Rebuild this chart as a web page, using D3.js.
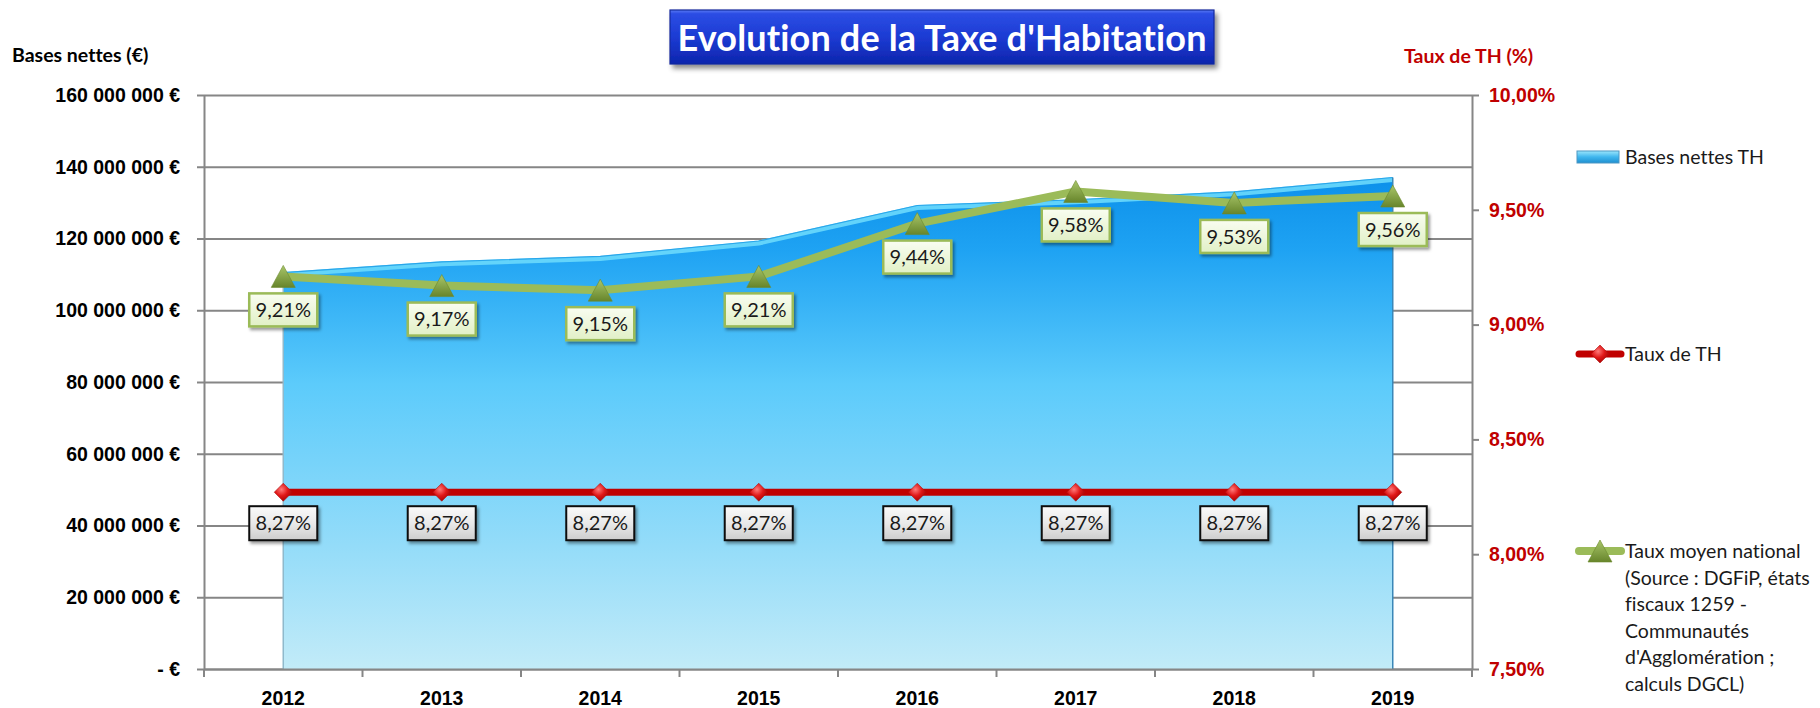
<!DOCTYPE html>
<html><head><meta charset="utf-8">
<script src="https://cdn.jsdelivr.net/npm/d3@7"></script>
<style>
body{margin:0;background:#fff;}
svg{display:block;font-family:Lato,'Open Sans',sans-serif;}
svg text{font-variant-ligatures:none;font-feature-settings:"liga" 0,"clig" 0;}
</style>
</head><body>
<svg id="c" width="1820" height="708"></svg>
<script>
// ---- data ----
const years = ["2012","2013","2014","2015","2016","2017","2018","2019"];
const basesNettes = [110500000,113500000,115000000,119300000,129200000,130800000,133000000,137000000];
const tauxTH = [8.27,8.27,8.27,8.27,8.27,8.27,8.27,8.27];
const tauxMoyen = [9.21,9.17,9.15,9.21,9.44,9.58,9.53,9.56];
const leftTicks = [0,20000000,40000000,60000000,80000000,100000000,120000000,140000000,160000000];
const rightTicks = [7.5,8,8.5,9,9.5,10];
const titleText = "Evolution de la Taxe d'Habitation";
const leftTitle = "Bases nettes (€)";
const rightTitle = "Taux de TH (%)";
const legendBases = ["Bases nettes TH"];
const legendTaux = ["Taux de TH"];
const legendMoyen = ["Taux moyen national","(Source : DGFiP, états","fiscaux 1259 -","Communautés","d'Agglomération ;","calculs DGCL)"];

// ---- layout ----
const M = {left:204, right:1472, top:95, bottom:669};
const svg = d3.select("#c");
const loc = d3.formatLocale({decimal:",", thousands:"\u00a0", grouping:[3], currency:["","\u00a0€"]});
const fmtEur = v => v === 0 ? "-\u00a0€" : loc.format(",.0f")(v) + "\u00a0€";
const fmtPct = v => loc.format(".2f")(v) + "%";

const x = d3.scaleBand().domain(years).range([M.left, M.right]);
const cx = d => x(d) + x.bandwidth()/2;
const yL = d3.scaleLinear().domain([0,160000000]).range([M.bottom, M.top]);
const yR = d3.scaleLinear().domain([7.5,10]).range([M.bottom, M.top]);

// ---- defs ----
const defs = svg.append("defs");
function lg(id, stops, x1=0,y1=0,x2=0,y2=1){
  const g = defs.append("linearGradient").attr("id",id)
    .attr("x1",x1).attr("y1",y1).attr("x2",x2).attr("y2",y2);
  stops.forEach(s=>g.append("stop").attr("offset",s[0]).attr("stop-color",s[1]));
}
lg("areaGrad",[[0,"#0c90ea"],[0.15,"#1fa3f3"],[0.42,"#5ccbfb"],[0.75,"#94dcf9"],[1,"#c2ebf8"]]);
lg("titleGrad",[[0,"#5a78f5"],[0.07,"#2b4de4"],[0.5,"#1c3bd3"],[1,"#0d25ad"]]);
lg("grayGrad",[[0,"#fafafa"],[0.5,"#e9e9e9"],[1,"#cdcdcd"]]);
lg("greenGrad",[[0,"#f9fdf1"],[1,"#e1f0c6"]]);
lg("triGrad",[[0,"#a9c66a"],[1,"#67852b"]]);
lg("legBasesGrad",[[0,"#9be6fc"],[0.5,"#3fb6ee"],[1,"#1f8fd0"]]);
const rg = defs.append("radialGradient").attr("id","diaGrad").attr("cx","0.4").attr("cy","0.35").attr("r","0.7");
rg.append("stop").attr("offset",0).attr("stop-color","#ff7a7a");
rg.append("stop").attr("offset",0.5).attr("stop-color","#e01818");
rg.append("stop").attr("offset",1).attr("stop-color","#a00000");
const f = defs.append("filter").attr("id","shadow").attr("x","-20%").attr("y","-20%").attr("width","150%").attr("height","160%");
f.append("feDropShadow").attr("dx",2).attr("dy",2.5).attr("stdDeviation",1.6).attr("flood-color","#000").attr("flood-opacity",0.4);
const f2 = defs.append("filter").attr("id","tshadow").attr("x","-10%").attr("y","-20%").attr("width","120%").attr("height","160%");
f2.append("feDropShadow").attr("dx",3).attr("dy",4).attr("stdDeviation",2.5).attr("flood-color","#000").attr("flood-opacity",0.45);

const axisColor = "#868686";

// ---- gridlines ----
const grid = svg.append("g").attr("transform",`translate(${M.left},0)`)
  .call(d3.axisLeft(yL).tickValues(leftTicks).tickSize(-(M.right-M.left)).tickFormat(""));
grid.select(".domain").remove();
grid.selectAll("line").attr("stroke",axisColor).attr("stroke-width",2);

// ---- area ----
const areaData = years.map((y,i)=>({year:y, v:basesNettes[i]}));
svg.append("path").datum(areaData)
  .attr("d", d3.area().x(d=>cx(d.year)).y0(yL(0)).y1(d=>yL(d.v)))
  .attr("fill","url(#areaGrad)");
// top bevel
svg.append("path").datum(areaData)
  .attr("d", d3.line().x(d=>cx(d.year)).y(d=>yL(d.v)+2))
  .attr("fill","none").attr("stroke","#6ad9fc").attr("stroke-width",5).attr("opacity",0.9);
svg.append("path").datum(areaData)
  .attr("d", d3.line().x(d=>cx(d.year)).y(d=>yL(d.v)))
  .attr("fill","none").attr("stroke","#2aa6ea").attr("stroke-width",1.2);
// side edges
[[years[0],basesNettes[0],"#8fb9cc"],[years[years.length-1],basesNettes[basesNettes.length-1],"#3a87b8"]].forEach(e=>{
  svg.append("line").attr("x1",cx(e[0])).attr("x2",cx(e[0]))
    .attr("y1",yL(e[1])).attr("y2",yL(0)).attr("stroke",e[2]).attr("stroke-width",1.5);
});

// ---- axes ----
const axL = svg.append("g").attr("transform",`translate(${M.left},0)`)
  .call(d3.axisLeft(yL).tickValues(leftTicks).tickSize(7).tickSizeOuter(0).tickPadding(17).tickFormat(fmtEur));
axL.selectAll("path,line").attr("stroke",axisColor).attr("stroke-width",2);
axL.selectAll("text").attr("font-size","19.5px").attr("font-weight","bold").attr("fill","#000");

const axR = svg.append("g").attr("transform",`translate(${M.right},0)`)
  .call(d3.axisRight(yR).tickValues(rightTicks).tickSize(7).tickSizeOuter(0).tickPadding(10).tickFormat(fmtPct));
axR.selectAll("path,line").attr("stroke",axisColor).attr("stroke-width",2);
axR.selectAll("text").attr("font-size","19.5px").attr("font-weight","bold").attr("fill","#c00000");

const axB = svg.append("g").attr("transform",`translate(0,${M.bottom})`)
  .call(d3.axisBottom(x).tickSize(0).tickSizeOuter(0).tickPadding(22));
axB.selectAll("path").attr("stroke",axisColor).attr("stroke-width",2);
axB.selectAll("text").attr("font-size","19.5px").attr("font-weight","bold").attr("fill","#000");
// category boundary ticks
svg.append("g").selectAll("line").data(years.map(y=>x(y)).concat([M.right]))
  .join("line").attr("x1",d=>d).attr("x2",d=>d).attr("y1",M.bottom).attr("y2",M.bottom+8)
  .attr("stroke",axisColor).attr("stroke-width",2);

// ---- lines ----
svg.append("path").datum(tauxTH)
  .attr("d", d3.line().x((d,i)=>cx(years[i])).y(d=>yR(d)))
  .attr("fill","none").attr("stroke","#c00000").attr("stroke-width",7);
svg.append("path").datum(tauxMoyen)
  .attr("d", d3.line().x((d,i)=>cx(years[i])).y(d=>yR(d)))
  .attr("fill","none").attr("stroke","#9bbb59").attr("stroke-width",8).attr("stroke-linejoin","round");

const diamond = "M0,-9L9,0L0,9L-9,0Z";
const triangle = "M0,-11L12,11L-12,11Z";
svg.append("g").selectAll("path").data(tauxTH).join("path")
  .attr("d",diamond).attr("transform",(d,i)=>`translate(${cx(years[i])},${yR(d)})`)
  .attr("fill","url(#diaGrad)").attr("stroke","#b01010").attr("stroke-width",0.6);
svg.append("g").selectAll("path").data(tauxMoyen).join("path")
  .attr("d",triangle).attr("transform",(d,i)=>`translate(${cx(years[i])},${yR(d)})`)
  .attr("fill","url(#triGrad)").attr("stroke","#6b8a2c").attr("stroke-width",0.6);

// ---- data labels ----
function labels(data, offset, fill, stroke, sw, h){
  const g = svg.append("g").selectAll("g").data(data).join("g")
    .attr("transform",(d,i)=>`translate(${cx(years[i])},${yR(d)+offset})`);
  g.append("rect").attr("x",-34).attr("y",0).attr("width",68).attr("height",h)
    .attr("fill",fill).attr("stroke",stroke).attr("stroke-width",sw).attr("filter","url(#shadow)");
  g.append("text").attr("x",0).attr("y",h/2).attr("dy","0.36em").attr("text-anchor","middle")
    .attr("font-size","20px").attr("fill","#1a1a1a").text(d=>fmtPct(d));
}
labels(tauxTH, 14, "url(#grayGrad)", "#111", 2, 34);
labels(tauxMoyen, 17, "url(#greenGrad)", "#9bbb59", 2.5, 33);

// ---- title ----
const tg = svg.append("g");
tg.append("rect").attr("x",670).attr("y",10).attr("width",544).attr("height",54)
  .attr("fill","url(#titleGrad)").attr("stroke","#132a9c").attr("stroke-width",1.2).attr("filter","url(#tshadow)");
tg.append("text").attr("x",942).attr("y",51).attr("text-anchor","middle")
  .attr("font-size","36px").attr("font-weight","bold").attr("fill","#fff")
  .attr("textLength",529).attr("lengthAdjust","spacing").text(titleText);

// ---- axis titles ----
svg.append("text").attr("x",12).attr("y",62).attr("font-size","19.5px").attr("font-weight","bold")
  .attr("fill","#000").text(leftTitle);
svg.append("text").attr("x",1404).attr("y",63).attr("font-size","19.5px").attr("font-weight","bold")
  .attr("fill","#c00000").text(rightTitle);

// ---- legend ----
const legX = 1577, legTextX = 1625, lineH = 26.6;
svg.append("rect").attr("x",legX).attr("y",151).attr("width",42).attr("height",12)
  .attr("fill","url(#legBasesGrad)").attr("stroke","#4d97c4").attr("stroke-width",1);
svg.append("text").attr("x",legTextX).attr("y",157).attr("dy","0.36em").attr("font-size","19.5px")
  .attr("fill","#1a1a1a").text(legendBases[0]);

svg.append("line").attr("x1",legX+2).attr("x2",legX+44).attr("y1",354).attr("y2",354)
  .attr("stroke","#c00000").attr("stroke-width",7).attr("stroke-linecap","round");
svg.append("path").attr("d",diamond).attr("transform",`translate(${legX+23},354)`)
  .attr("fill","url(#diaGrad)").attr("stroke","#b01010").attr("stroke-width",0.6);
svg.append("text").attr("x",legTextX).attr("y",354).attr("dy","0.36em").attr("font-size","19.5px")
  .attr("fill","#1a1a1a").text(legendTaux[0]);

svg.append("line").attr("x1",legX+2).attr("x2",legX+44).attr("y1",551).attr("y2",551)
  .attr("stroke","#9bbb59").attr("stroke-width",8).attr("stroke-linecap","round");
svg.append("path").attr("d",triangle).attr("transform",`translate(${legX+23},551)`)
  .attr("fill","url(#triGrad)").attr("stroke","#6b8a2c").attr("stroke-width",0.6);
svg.append("g").selectAll("text").data(legendMoyen).join("text")
  .attr("x",legTextX).attr("y",(d,i)=>551+i*lineH).attr("dy","0.36em").attr("font-size","19.5px")
  .attr("fill","#1a1a1a").text(d=>d);
</script>
</body></html>
